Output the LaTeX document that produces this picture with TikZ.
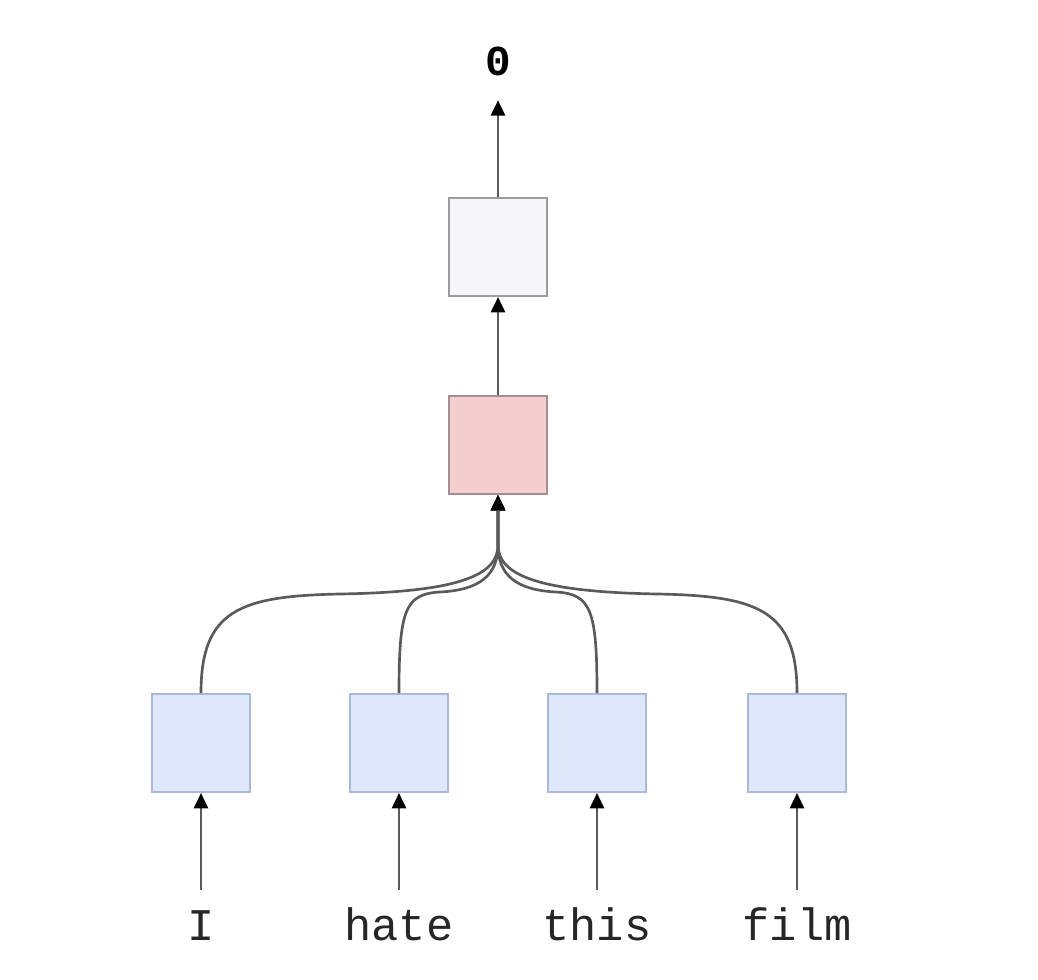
\documentclass[tikz,border=0pt]{standalone}
\usepackage{fontspec}
\setmonofont{Liberation Mono}
\usetikzlibrary{arrows.meta}
\definecolor{wirecol}{HTML}{5A5A5A}
\definecolor{outfill}{HTML}{F7F7F9}
\definecolor{outdraw}{HTML}{9C9C9C}
\definecolor{poolfill}{HTML}{F4CDCF}
\definecolor{pooldraw}{HTML}{A38F93}
\definecolor{embfill}{HTML}{DFE8FA}
\definecolor{embdraw}{HTML}{AAB9D9}
\begin{document}
\begin{tikzpicture}[x=0.75pt,y=-0.75pt,
  cell/.style={draw, line width=1.5pt, minimum size=73.5pt, inner sep=0pt},
  outcell/.style={cell, fill=outfill, draw=outdraw},
  poolcell/.style={cell, fill=poolfill, draw=pooldraw},
  embcell/.style={cell, fill=embfill, draw=embdraw},
  wire/.style={draw=wirecol, line width=2pt,
    -{Triangle[length=11.5pt,width=10.5pt,color=black]}},
  word/.style={font=\ttfamily\fontsize{34}{34}\selectfont, text=black!85,
    inner sep=0pt, text height=37pt, text depth=0pt, anchor=base},
  outlabel/.style={font=\ttfamily\bfseries\fontsize{32}{32}\selectfont,
    inner sep=0pt, text height=22pt, text depth=18pt, anchor=base}]
  \useasboundingbox (0,0) rectangle (1038,980);

  % output label and the two upper cells
  \node[outlabel] (y) at (498,76) {0};
  \node[outcell] (out) at (498,247) {};
  \node[poolcell] (pool) at (498,445) {};

  % word embeddings
  \node[embcell] (e1) at (201,743) {};
  \node[embcell] (e2) at (399,743) {};
  \node[embcell] (e3) at (597,743) {};
  \node[embcell] (e4) at (797,743) {};

  % input tokens
  \node[word] (w1) at (201,940) {I};
  \node[word] (w2) at (399,940) {hate};
  \node[word] (w3) at (597,940) {this};
  \node[word] (w4) at (797,940) {film};

  % tokens into embeddings
  \foreach \i in {1,...,4} {
    \draw[wire] (w\i.north) -- (e\i.south);
  }

  % embeddings merged into the pooled cell
  \coordinate (m) at ([yshift=-37.5pt]pool.south);
  \draw[wire] (e1.north) .. controls +(0,-83) and (240,596) .. (340,594)
    .. controls (460,592) and (498,575) .. (m) -- (pool.south);
  \draw[wire] (e2.north) .. controls +(0,-83) and (405,594) .. (440,592)
    .. controls (480,590) and (498,575) .. (m) -- (pool.south);
  \draw[wire] (e3.north) .. controls +(0,-83) and (591,594) .. (556,592)
    .. controls (516,590) and (498,575) .. (m) -- (pool.south);
  \draw[wire] (e4.north) .. controls +(0,-83) and (758,596) .. (658,594)
    .. controls (538,592) and (498,575) .. (m) -- (pool.south);

  % pooled cell to output
  \draw[wire] (pool.north) -- (out.south);
  \draw[wire] (out.north) -- (y.south);
\end{tikzpicture}
\end{document}
